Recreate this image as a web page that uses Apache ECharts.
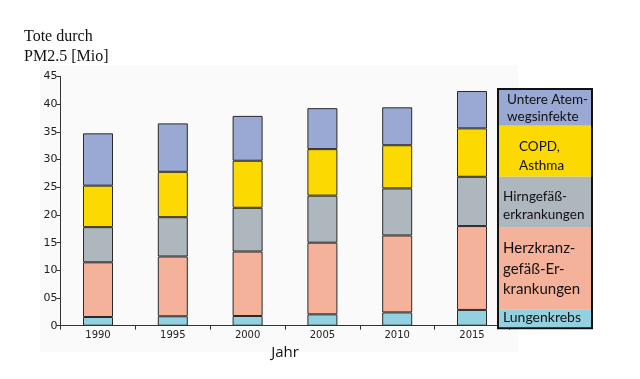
<!DOCTYPE html>
<html>
<head>
<meta charset="utf-8">
<script src="https://cdn.jsdelivr.net/npm/echarts@6/dist/echarts.min.js"></script>
<style>html,body{margin:0;padding:0;background:#fff}#c{width:640px;height:379px}</style>
</head>
<body>
<div id="c"></div>
<script>
const years = ['1990', '1995', '2000', '2005', '2010', '2015'];
const yTickLabels = ['0', '05', '10', '15', '20', '25', '30', '35', '40', '45'];
const seriesNames = ['Lungenkrebs', 'Herzkranzgefäß-Erkrankungen', 'Hirngefäßerkrankungen', 'COPD, Asthma', 'Untere Atemwegsinfekte'];
const lungenkrebs = [1.57, 1.7, 1.75, 2.05, 2.4, 2.85];
const herzkranz = [9.88, 10.8, 11.65, 12.95, 13.9, 15.15];
const hirngefaess = [6.35, 7.1, 7.9, 8.5, 8.5, 8.9];
const copdAsthma = [7.5, 8.2, 8.5, 8.4, 7.8, 8.75];
const atemwegsinfekte = [9.45, 8.75, 8.1, 7.4, 6.85, 6.75];
const legendLabels = ['Untere Atem-\nwegsinfekte', 'COPD,\nAsthma', 'Hirngefäß-\nerkrankungen', 'Herzkranz-\ngefäß-Er-\nkrankungen', 'Lungenkrebs'];
const yTitle = 'Tote durch\nPM2.5 [Mio]';
const xTitle = 'Jahr';

const colors = ['#93d0e0', '#f5b29a', '#aeb6be', '#fcd900', '#9aa8d4'];
const values = [lungenkrebs, herzkranz, hirngefaess, copdAsthma, atemwegsinfekte];

const chart = echarts.init(document.getElementById('c'), null, {renderer: 'canvas'});

// legend box geometry (top to bottom)
const legX = 498, legW = 94;
const cells = [
  {y0: 89, y1: 125.7, color: colors[4], tx: 507, fs: 13.5, lh: 17.5},
  {y0: 125.7, y1: 176.7, color: colors[3], tx: 519, fs: 13.5, lh: 18.5},
  {y0: 176.7, y1: 227.7, color: colors[2], tx: 503, fs: 13.5, lh: 17.5},
  {y0: 227.7, y1: 309.3, color: colors[1], tx: 503, fs: 15, lh: 20.5},
  {y0: 309.3, y1: 328.3, color: colors[0], tx: 503, fs: 14, lh: 17}
];
const textCenters = [108, 156, 205.5, 269, 317.5];

const graphics = [
  {type: 'rect', z: -10, silent: true, shape: {x: 40, y: 65, width: 478, height: 287}, style: {fill: '#fafafa'}},
  {type: 'text', left: 24, top: 27, style: {text: yTitle, font: '16px "Liberation Serif"', lineHeight: 20, fill: '#111'}},
  {type: 'text', x: 285, y: 353, style: {text: xTitle, font: '15px "Open Sans"', fill: '#111', textAlign: 'center', textVerticalAlign: 'middle'}}
];
cells.forEach((c, i) => {
  graphics.push({type: 'rect', shape: {x: legX + 1, y: c.y0, width: legW - 2, height: c.y1 - c.y0}, style: {fill: c.color}, z: 5});
  graphics.push({type: 'text', x: c.tx, y: textCenters[i], z: 7,
    style: {text: legendLabels[i], font: c.fs + 'px Lato', lineHeight: c.lh, fill: '#111', textAlign: 'left', textVerticalAlign: 'middle'}});
});
graphics.push({type: 'rect', z: 8, shape: {x: legX, y: 89, width: legW, height: 239.3}, style: {fill: 'none', stroke: '#111', lineWidth: 2}});

chart.setOption({
  animation: false,
  backgroundColor: '#fff',
  grid: {left: 60.6, right: 130.6, top: 76.6, bottom: 53.3, containLabel: false},
  xAxis: {
    type: 'category', data: years, boundaryGap: true,
    axisLine: {lineStyle: {color: '#333', width: 1}},
    axisTick: {show: true, length: 4, lineStyle: {color: '#333'}},
    axisLabel: {color: '#222', fontSize: 10, fontFamily: 'DejaVu Sans', margin: 5}
  },
  yAxis: {
    type: 'value', min: 0, max: 45, interval: 5,
    axisLine: {show: true, lineStyle: {color: '#333', width: 1}},
    axisTick: {show: true, length: 4, lineStyle: {color: '#333'}},
    splitLine: {show: false},
    axisLabel: {color: '#222', fontSize: 11, fontFamily: 'DejaVu Sans', margin: 3,
      formatter: (v) => yTickLabels[Math.round(v / 5)]}
  },
  series: values.map((d, i) => ({
    name: seriesNames[i], type: 'bar', stack: 'total', data: d, barWidth: 30,
    itemStyle: {color: colors[i], borderColor: '#2a2a2a', borderWidth: 1}
  })),
  graphic: graphics
});
</script>
</body>
</html>
